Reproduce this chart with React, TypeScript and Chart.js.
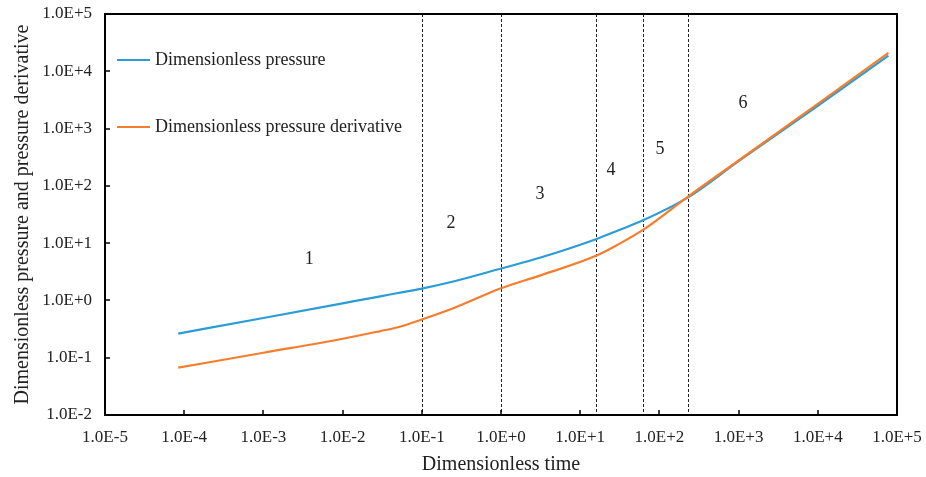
import React, { useEffect, useRef } from "react";
import { Chart, registerables } from "chart.js";

Chart.register(...registerables);

// ---- data ----
const timeValues = [8.4e-5, 1e-3, 1e-2, 3e-2, 5e-2, 0.1, 0.25, 1, 3.16, 15.8, 31, 62, 230, 1e3, 1e4, 7.8e4];
const pressureValues = [0.263, 0.494, 0.89, 1.18, 1.35, 1.61, 2.14, 3.6, 5.6, 11.7, 16.9, 25, 63, 270, 2500, 18800];
const derivativeValues = [0.067, 0.122, 0.214, 0.292, 0.34, 0.465, 0.73, 1.63, 2.74, 6.0, 9.7, 17, 65, 277, 2700, 21000];

const boundaryTimes = [0.1, 1, 15.8, 62, 230];
const regionLabels = ["1", "2", "3", "4", "5", "6"];
const regionLabelTimes = [3.8e-3, 0.234, 3.1, 24.5, 102, 1140];
const regionLabelValues = [5.3, 22.6, 70, 190, 427, 2800];

const xTickValues = [1e-5, 1e-4, 1e-3, 1e-2, 1e-1, 1e0, 1e1, 1e2, 1e3, 1e4, 1e5];
const yTickValues = [1e-2, 1e-1, 1e0, 1e1, 1e2, 1e3, 1e4, 1e5];

const seriesNames = ["Dimensionless pressure", "Dimensionless pressure derivative"];
const xTitle = "Dimensionless time";
const yTitle = "Dimensionless pressure and pressure derivative";

const BLUE = "#2A9CD8";
const ORANGE = "#F57D2C";
const FONT = "'Liberation Serif', 'Times New Roman', serif";

const fmt = (v: number) => {
  const e = Math.round(Math.log10(v));
  return "1.0E" + (e >= 0 ? "+" : "") + e;
};

const decorPlugin = {
  id: "decor",
  beforeDatasetsDraw(chart: any) {
    const { ctx, chartArea, scales } = chart;
    const xs = scales.x;
    ctx.save();
    ctx.strokeStyle = "#222";
    ctx.lineWidth = 1;
    ctx.setLineDash([3, 2]);
    boundaryTimes.forEach((t) => {
      const px = Math.round(xs.getPixelForValue(t)) + 0.5;
      ctx.beginPath();
      ctx.moveTo(px, chartArea.top);
      ctx.lineTo(px, chartArea.bottom);
      ctx.stroke();
    });
    ctx.restore();
  },
  afterDatasetsDraw(chart: any) {
    const { ctx, chartArea, scales } = chart;
    const xs = scales.x;
    const ys = scales.y;
    ctx.save();
    // frame
    ctx.strokeStyle = "#000";
    ctx.lineWidth = 2;
    ctx.setLineDash([]);
    ctx.strokeRect(chartArea.left, chartArea.top, chartArea.right - chartArea.left, chartArea.bottom - chartArea.top);
    // inward ticks
    ctx.lineWidth = 1.5;
    xTickValues.forEach((v) => {
      const px = Math.round(xs.getPixelForValue(v));
      ctx.beginPath();
      ctx.moveTo(px, chartArea.bottom);
      ctx.lineTo(px, chartArea.bottom - 5);
      ctx.stroke();
    });
    yTickValues.forEach((v) => {
      const py = Math.round(ys.getPixelForValue(v));
      ctx.beginPath();
      ctx.moveTo(chartArea.left, py);
      ctx.lineTo(chartArea.left + 5, py);
      ctx.stroke();
    });
    // region labels
    ctx.fillStyle = "#222";
    ctx.font = "18px " + FONT;
    ctx.textAlign = "center";
    ctx.textBaseline = "middle";
    regionLabels.forEach((lab, i) => {
      ctx.fillText(lab, xs.getPixelForValue(regionLabelTimes[i]), ys.getPixelForValue(regionLabelValues[i]));
    });
    // legend
    const colors = [BLUE, ORANGE];
    const lx = chartArea.left + 12;
    const lys = [chartArea.top + 46, chartArea.top + 113];
    ctx.textAlign = "left";
    ctx.lineWidth = 2;
    seriesNames.forEach((name, i) => {
      ctx.strokeStyle = colors[i];
      ctx.beginPath();
      ctx.moveTo(lx, lys[i]);
      ctx.lineTo(lx + 33, lys[i]);
      ctx.stroke();
      ctx.fillStyle = "#222";
      ctx.fillText(name, lx + 38, lys[i]);
    });
    ctx.restore();
  },
};

export default function App() {
  const canvasRef = useRef<HTMLCanvasElement | null>(null);

  useEffect(() => {
    if (!canvasRef.current) return;
    const chart = new Chart(canvasRef.current, {
      type: "line",
      data: {
        datasets: [
          {
            label: seriesNames[0],
            data: timeValues.map((t, i) => ({ x: t, y: pressureValues[i] })),
            borderColor: BLUE,
            backgroundColor: BLUE,
            borderWidth: 2.2,
            pointRadius: 0,
            cubicInterpolationMode: "monotone",
            order: 2,
          },
          {
            label: seriesNames[1],
            data: timeValues.map((t, i) => ({ x: t, y: derivativeValues[i] })),
            borderColor: ORANGE,
            backgroundColor: ORANGE,
            borderWidth: 2.2,
            pointRadius: 0,
            cubicInterpolationMode: "monotone",
            order: 1,
          },
        ],
      },
      options: {
        animation: false,
        responsive: true,
        maintainAspectRatio: false,
        layout: { padding: { left: 0, right: 29, top: 14, bottom: 0 } },
        plugins: {
          legend: { display: false },
          tooltip: { enabled: false },
        },
        scales: {
          x: {
            type: "logarithmic",
            min: 1e-5,
            max: 1e5,
            grid: { display: false },
            border: { display: false },
            afterBuildTicks: (scale: any) => {
              scale.ticks = xTickValues.map((v) => ({ value: v }));
            },
            afterFit: (scale: any) => {
              scale.height = 62;
              scale.paddingLeft = 0;
              scale.paddingRight = 0;
            },
            ticks: {
              autoSkip: false,
              maxRotation: 0,
              padding: 4,
              color: "#222",
              font: { family: FONT, size: 17 },
              callback: (v: any) => fmt(Number(v)),
            },
            title: {
              display: true,
              text: xTitle,
              color: "#222",
              font: { family: FONT, size: 20 },
              padding: { top: 0, bottom: 0 },
            },
          },
          y: {
            type: "logarithmic",
            min: 1e-2,
            max: 1e5,
            grid: { display: false },
            border: { display: false },
            afterBuildTicks: (scale: any) => {
              scale.ticks = yTickValues.map((v) => ({ value: v }));
            },
            afterFit: (scale: any) => {
              scale.width = 105;
              scale.paddingTop = 0;
              scale.paddingBottom = 0;
            },
            ticks: {
              autoSkip: false,
              padding: 5,
              color: "#222",
              font: { family: FONT, size: 17 },
              callback: (v: any) => fmt(Number(v)),
            },
            title: {
              display: true,
              text: yTitle,
              color: "#222",
              font: { family: FONT, size: 20 },
              padding: { top: 11, bottom: 0 },
            },
          },
        },
      } as any,
      plugins: [decorPlugin],
    });
    return () => chart.destroy();
  }, []);

  return (
    <div style={{ position: "fixed", left: 0, top: 0, width: 926, height: 477, background: "#fff" }}>
      <canvas ref={canvasRef} />
    </div>
  );
}
